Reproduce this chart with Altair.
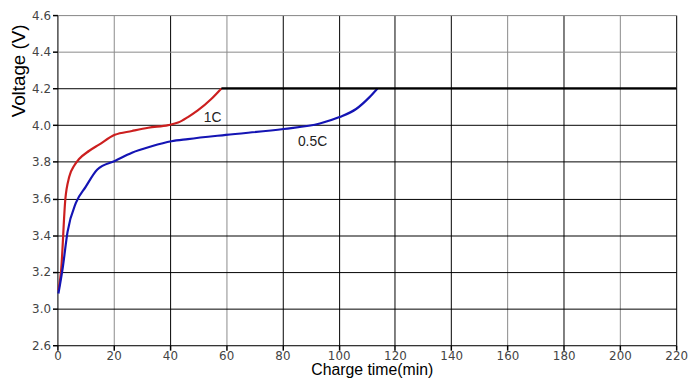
import altair as alt
import pandas as pd

# 1C charge curve (constant current phase)
t_1c = [0.35, 1.3, 2.8, 4.2, 6.0, 7.7, 11.2, 14.8, 20.4, 26.5, 32.3, 39.4, 42.9, 46.4, 49.9, 54.6, 58.3]
v_1c = [3.10, 3.206, 3.594, 3.718, 3.78, 3.815, 3.859, 3.894, 3.947, 3.968, 3.986, 4.0, 4.014, 4.044, 4.08, 4.141, 4.20]

# 0.5C charge curve
t_05c = [0.35, 1.9, 3.6, 6.6, 10.1, 14.2, 20.6, 26.5, 33.5, 40.5, 46.4, 59.9, 80.4, 93.3, 100.3, 106.2, 110.8, 113.8]
v_05c = [3.082, 3.224, 3.418, 3.577, 3.665, 3.758, 3.806, 3.85, 3.885, 3.912, 3.924, 3.947, 3.979, 4.009, 4.044, 4.088, 4.15, 4.20]

# constant voltage limit
t_cv = [58.3, 220]
v_cv = [4.2, 4.2]

series_names = ["1C", "0.5C", "CV"]
series_colors = ["#cc1f1f", "#1414b4", "#000000"]

label_text = ["1C", "0.5C"]
label_t = [55.2, 90.7]
label_v = [4.039, 3.907]

x_ticks = list(range(0, 221, 20))
y_ticks = [2.8, 3.0, 3.2, 3.4, 3.6, 3.8, 4.0, 4.2, 4.4, 4.6]

rows = []
for name, ts, vs in [("1C", t_1c, v_1c), ("0.5C", t_05c, v_05c), ("CV", t_cv, v_cv)]:
    for i, (t, v) in enumerate(zip(ts, vs)):
        rows.append({"series": name, "t": t, "v": v, "order": i})
df = pd.DataFrame(rows)
labels_df = pd.DataFrame({"text": label_text, "t": label_t, "v": label_v})

title_font = "Liberation Sans"
tick_font = "DejaVu Sans"

x_scale = alt.Scale(domain=[0, 220], nice=False, zero=False)
y_scale = alt.Scale(domain=[2.8, 4.6], nice=False, zero=False)

x_grid_color = {"condition": {"test": "indexof([20, 60, 160, 200], datum.value) >= 0", "value": "#8a8a8a"}, "value": "#000000"}
y_grid_color = {"condition": {"test": "datum.value > 4.3", "value": "#8a8a8a"}, "value": "#000000"}

x_axis = alt.Axis(values=x_ticks, title="Charge time(min)", grid=True,
                  gridColor=x_grid_color, gridWidth=1, gridOpacity=1,
                  domain=False, tickColor="black", tickSize=5, tickWidth=1.5,
                  labelOverlap=False, labelFlush=False, labelBound=False,
                  labelFont=tick_font, labelFontSize=12, labelColor="#444", labelPadding=0,
                  titleFont=title_font, titleFontSize=16, titleFontWeight="normal",
                  titleColor="black", titleY=30, titleX=318, titleBaseline="alphabetic")
y_axis = alt.Axis(values=y_ticks, title="Voltage (V)", grid=True,
                  gridColor=y_grid_color, gridWidth=1, gridOpacity=1,
                  domain=False, tickColor="black", tickSize=5, tickWidth=1.5,
                  labelOverlap=False, labelFlush=False, labelBound=False,
                  labelExpr="datum.value < 2.9 ? '2.6' : format(datum.value, '.1f')",
                  labelFont=tick_font, labelFontSize=12, labelColor="#444", labelPadding=2,
                  titleFont=title_font, titleFontSize=19, titleFontWeight="normal",
                  titleColor="black", titleX=-33, titleY=9, titleAlign="right",
                  titleBaseline="alphabetic", titleAngle=270)

lines = alt.Chart(df).mark_line(strokeWidth=2.2, interpolate="monotone").encode(
    x=alt.X("t:Q", scale=x_scale, axis=x_axis),
    y=alt.Y("v:Q", scale=y_scale, axis=y_axis),
    color=alt.Color("series:N", scale=alt.Scale(domain=series_names, range=series_colors), legend=None),
    detail="series:N",
    order="order:Q",
)

texts = alt.Chart(labels_df).mark_text(font=title_font, fontSize=14, color="#222").encode(
    x=alt.X("t:Q", scale=x_scale, axis=x_axis),
    y=alt.Y("v:Q", scale=y_scale, axis=y_axis),
    text="text:N",
)

chart = (lines + texts).properties(
    width=626, height=334,
    autosize=alt.AutoSizeParams(type="none"),
    padding={"left": 50, "top": 5, "right": 16, "bottom": 33},
).configure_view(stroke="black", strokeWidth=2.5).configure(background="white")

chart.save("out.html", embed_options={"renderer": "svg", "actions": False})
